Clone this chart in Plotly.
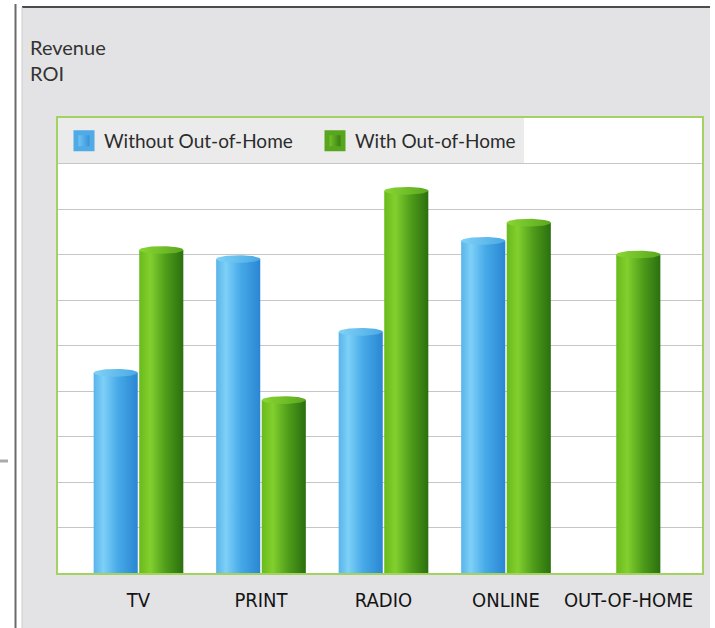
import numpy as np
import plotly.graph_objects as go

# ---------------- data ----------------
categories = ["TV", "PRINT", "RADIO", "ONLINE", "OUT-OF-HOME"]
without_ooh = [4.4, 6.9, 5.3, 7.3, None]
with_ooh = [7.1, 3.8, 8.4, 7.7, 7.0]
series_names = ["Without Out-of-Home", "With Out-of-Home"]
title_text = "Revenue<br>ROI"

# ---------------- layout constants ----------------
W, H = 715, 628
ML, MR, MT, MB = 58, 13, 118, 55
PW, PH = W - ML - MR, H - MT - MB
XR = [-0.657, 4.6]
YR = [0, 10]
BAR_W = 0.36
GAP = 0.006
LONE_SHIFT = 0.08
CAP_H = 0.085

BLUE_SCALE = [[0, "#58b4ea"], [0.22, "#7ed0f7"], [0.55, "#47aae8"], [1, "#2a86d2"]]
GREEN_SCALE = [[0, "#6aba1c"], [0.25, "#82d02e"], [0.6, "#4f9d1a"], [1, "#2b6f0f"]]
BLUE_CAP = [[0, "#80d2f7"], [1, "#4aa8e4"]]
GREEN_CAP = [[0, "#8ad634"], [1, "#5aa81e"]]


def px_x(p):
    return (p - ML) / PW


def px_y(p):
    return (H - MB - p) / PH


fig = go.Figure()


def add_bar(xc, val, scale, cap):
    x0, x1 = xc - BAR_W / 2, xc + BAR_W / 2
    fig.add_trace(go.Scatter(
        x=[x0, x1, x1, x0, x0], y=[0, 0, val, val, 0],
        mode="lines", line=dict(width=0), fill="toself",
        fillgradient=dict(type="horizontal", colorscale=scale),
        hoverinfo="skip", showlegend=False))
    t = np.linspace(0, 2 * np.pi, 72)
    fig.add_trace(go.Scatter(
        x=xc + BAR_W / 2 * np.cos(t), y=val + CAP_H * np.sin(t),
        mode="lines", line=dict(width=0), fill="toself",
        fillgradient=dict(type="horizontal", colorscale=cap),
        hoverinfo="skip", showlegend=False))


for i, cat in enumerate(categories):
    b = without_ooh[i]
    g = with_ooh[i]
    if b is not None:
        add_bar(i - BAR_W / 2 - GAP, b, BLUE_SCALE, BLUE_CAP)
        gc = i + BAR_W / 2 + GAP
    else:
        gc = i + LONE_SHIFT
    if g is not None:
        add_bar(gc, g, GREEN_SCALE, GREEN_CAP)

# legend entries
fig.add_trace(go.Scatter(
    x=[None], y=[None], mode="markers", name=series_names[0],
    marker=dict(symbol="square", size=16, color="#7ed0f7",
                gradient=dict(type="horizontal", color="#2a86d2"),
                line=dict(width=5, color="#4eabe6"))))
fig.add_trace(go.Scatter(
    x=[None], y=[None], mode="markers", name=series_names[1],
    marker=dict(symbol="square", size=16, color="#82d02e",
                gradient=dict(type="horizontal", color="#2b6f0f"),
                line=dict(width=5, color="#58a61e"))))

shapes = [
    # gray panel
    dict(type="rect", xref="paper", yref="paper", x0=px_x(22), x1=px_x(710),
         y0=px_y(640), y1=px_y(7), fillcolor="#e3e3e5", line=dict(width=0), layer="below"),
    # white plot background
    dict(type="rect", xref="paper", yref="paper", x0=0, x1=1, y0=0, y1=1,
         fillcolor="white", line=dict(width=0), layer="below"),
    # legend band
    dict(type="rect", xref="paper", yref="paper", x0=0, x1=px_x(524),
         y0=px_y(164), y1=1, fillcolor="#ebebeb", line=dict(width=0), layer="below"),
    # panel top border
    dict(type="line", xref="paper", yref="paper", x0=px_x(22), x1=px_x(710),
         y0=px_y(7), y1=px_y(7), line=dict(color="#4c4c4c", width=2), layer="below"),
    # panel left edge
    dict(type="line", xref="paper", yref="paper", x0=px_x(22), x1=px_x(22),
         y0=px_y(640), y1=px_y(7), line=dict(color="#cdcdd0", width=1), layer="below"),
    # left divider
    dict(type="line", xref="paper", yref="paper", x0=px_x(15.5), x1=px_x(15.5),
         y0=px_y(640), y1=px_y(4), line=dict(color="#6a6a6a", width=2), layer="below"),
    # small dash at far left
    dict(type="line", xref="paper", yref="paper", x0=px_x(0), x1=px_x(8),
         y0=px_y(461), y1=px_y(461), line=dict(color="#aaaaaa", width=3), layer="below"),
]

fig.update_layout(
    width=W, height=H,
    margin=dict(l=ML, r=MR, t=MT, b=MB),
    paper_bgcolor="white",
    plot_bgcolor="rgba(0,0,0,0)",
    font=dict(family="Lato, 'Open Sans', sans-serif", color="#333333"),
    shapes=shapes,
    showlegend=True,
    legend=dict(
        orientation="h", x=px_x(64), y=px_y(141), xanchor="left", yanchor="middle",
        bgcolor="rgba(0,0,0,0)", borderwidth=0, itemsizing="trace",
        entrywidth=206, entrywidthmode="pixels",
        font=dict(size=19, color="#2b2b2b", family="Lato, sans-serif"),
    ),
    annotations=[dict(
        text=title_text, xref="paper", yref="paper", x=px_x(28), y=px_y(33),
        xanchor="left", yanchor="top", showarrow=False, align="left",
        font=dict(size=20, color="#333333", family="Lato, sans-serif"))],
    xaxis=dict(
        range=XR, tickmode="array", tickvals=list(range(len(categories))),
        ticktext=categories, showgrid=False, zeroline=False,
        showline=True, mirror=True, linecolor="#a3d262", linewidth=2,
        ticks="outside", ticklen=8, tickcolor="rgba(0,0,0,0)",
        tickfont=dict(size=20, color="#141414",
                      family="'Liberation Sans Narrow', 'DejaVu Sans Condensed', Lato, sans-serif"),
        fixedrange=True),
    yaxis=dict(
        range=YR, dtick=1, showgrid=True, gridcolor="#c6c6c6", gridwidth=1,
        showticklabels=False, zeroline=False, ticks="",
        showline=True, mirror=True, linecolor="#a3d262", linewidth=2,
        fixedrange=True),
)

fig.write_html("out.html")
